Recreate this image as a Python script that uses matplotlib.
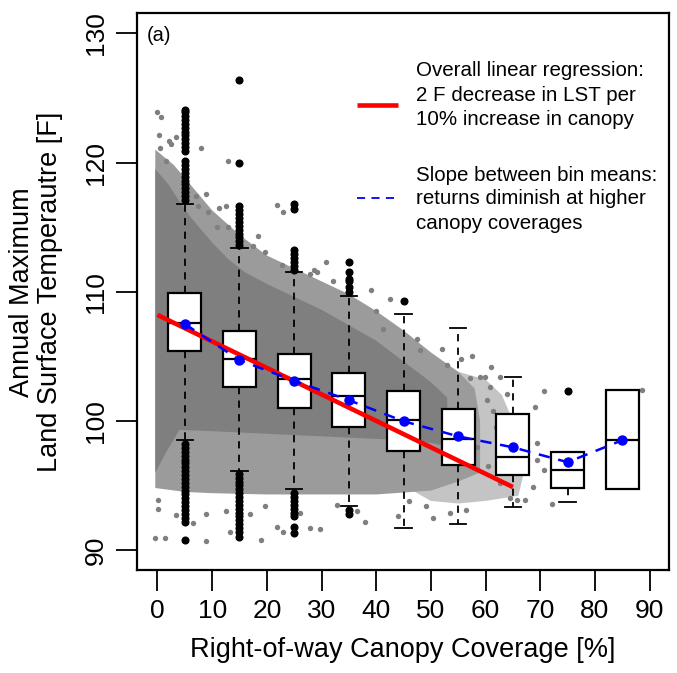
import matplotlib
matplotlib.use("Agg")
import matplotlib.pyplot as plt
from matplotlib.patches import Polygon

plt.rcParams['font.family'] = ['Liberation Sans', 'DejaVu Sans']

# ---- data ----
bins = [5, 15, 25, 35, 45, 55, 65, 75, 85]
q1 = [105.4, 102.6, 101.0, 99.5, 97.7, 96.6, 95.8, 94.8, 94.7]
med = [107.6, 104.8, 103.25, 101.95, 100.05, 98.6, 97.2, 96.2, 98.5]
q3 = [109.9, 106.95, 105.2, 103.7, 102.3, 100.9, 100.5, 97.6, 102.4]
whis_lo = [98.5, 96.15, 94.7, 93.4, 91.7, 92.0, 93.3, 93.7, 94.7]
whis_hi = [116.8, 113.4, 111.5, 109.7, 108.3, 107.2, 103.4, 97.6, 102.4]
bin_means = [107.5, 104.7, 103.1, 101.6, 99.97, 98.8, 97.95, 96.8, 98.5]

fliers = [
    [117.1, 117.4, 117.7, 118.0, 118.3, 118.6, 118.9, 119.2, 119.5, 119.8, 120.1,
     120.9, 121.2, 121.5, 121.8, 122.1, 122.4, 122.7, 123.0, 123.3, 123.6, 123.9, 124.1,
     98.2, 97.9, 97.6, 97.3, 97.0, 96.7, 96.4, 96.1, 95.8, 95.5, 95.2, 94.9, 94.6,
     94.3, 94.0, 93.7, 93.4, 93.1, 92.8, 92.5, 92.2, 90.8],
    [113.6, 113.9, 114.2, 114.5, 114.8, 115.1, 115.4, 115.7, 116.0, 116.3, 116.6,
     120.0, 126.4,
     95.9, 95.6, 95.3, 95.0, 94.7, 94.4, 94.1, 93.8, 93.5, 93.2, 92.9, 92.6, 92.3,
     92.0, 91.7, 91.4, 91.0],
    [111.7, 112.0, 112.3, 112.6, 112.9, 113.2, 116.4, 116.8,
     94.4, 94.1, 93.8, 93.5, 93.2, 92.9, 92.6, 91.8, 91.3],
    [110.0, 110.4, 110.8, 111.0, 111.5, 112.3, 93.1, 92.8],
    [109.3],
    [],
    [],
    [102.3],
    [],
]

reg_intercept = 108.2
reg_slope = -0.205
reg_x = [0, 65]

# dense core of the scatter cloud (canopy %, LST)
core_x = [-0.4, 2, 4, 6, 8, 10, 13, 16, 20, 25, 30, 35, 40, 45, 50, 53,
          53, 50, 45, 40, 30, 20, 10, 4, 1.5, -0.4]
core_y = [119.5, 118.3, 117.0, 115.8, 114.8, 113.8, 112.5, 111.5, 110.6, 109.6,
          108.6, 107.4, 106.2, 104.6, 103.0, 101.8,
          98.0, 98.3, 98.5, 98.6, 98.8, 99.0, 99.2, 99.3, 97.5, 96.0]
# speckled band round the core
band_x = [-0.4, 3, 6, 10, 15, 20, 25, 30, 35, 40, 45, 50, 55, 58, 59,
          59, 55, 50, 40, 30, 20, 10, 5, -0.4]
band_y = [121.0, 119.8, 118.3, 116.3, 114.4, 112.8, 111.8, 110.8, 109.8, 108.5,
          107.0, 105.3, 103.8, 102.5, 100.0,
          96.0, 95.3, 94.6, 94.3, 94.3, 94.3, 94.4, 94.5, 94.8]
# thin outer zone on the right of the cloud
thin_x = [45, 50, 55, 60, 63, 66, 67, 66, 60, 55, 50, 45]
thin_y = [103.0, 104.6, 103.8, 103.2, 102.0, 99.0, 96.0, 94.2, 93.8, 93.6, 93.8, 95.0]
# sparse points around the cloud
pts_x = [-0.1, 0.7, 0.25, 0.4, 2.2, 2.5, 3.4, 8.0, 12.9, 1.6, 7.1, 8.9, 7.4, 9.2,
         11.3, 12.6, 10.8, 12.9, 18.4, 17.5, 21.8, 23.0, 19.6, 30.9, 27.9, 29.1, 22.7,
         28.7, 32.1, 39.1, 42.5, 40.0, 41.2, 47.4, 48.0, 52.9, 57.1, 59.0, 59.9, 60.8,
         60.2, 61.4, 70.6, 69.0, 69.4, 69.4, 70.6, 68.7, 67.2, 72.1, 88.6, 62.6, 63.9,
         62.6, 64.5, 50.4, 49.2, 53.5, 56.5, 65.7,
         -0.5, 1.3, 8.9, 0.1, 0.1, 3.4, 8.9, 6.5, 12.6, 13.2, 19.0, 21.8, 23.0, 27.9,
         29.7, 32.8, 16.9, 19.6, 36.5, 44.0, 38.0, 46.0, 26.0, 4.8,
         57.5, 61.0, 62.0, 58.5, 52.0, 55.5, 63.0, 60.5]
pts_y = [123.9, 123.5, 122.1, 121.1, 121.7, 121.4, 122.0, 121.1, 120.1, 120.1,
         117.4, 117.6, 116.6, 116.2, 116.5, 116.6, 115.0, 115.0, 114.3, 113.5, 116.7,
         116.2, 113.1, 112.3, 111.4, 111.5, 112.1, 111.7, 110.8, 110.1, 109.4, 108.5,
         107.1, 106.3, 105.5, 104.3, 103.3, 103.4, 103.4, 102.6, 101.6, 100.8, 102.3,
         101.1, 98.3, 97.0, 96.2, 94.9, 93.9, 93.6, 102.4, 103.4, 102.1, 95.2, 94.0,
         92.5, 93.4, 92.9, 93.1, 93.9,
         90.9, 90.9, 90.7, 93.2, 93.9, 92.7, 92.8, 92.1, 93.0, 91.4, 90.8, 91.8, 91.4,
         91.7, 91.6, 93.5, 92.8, 93.4, 93.0, 92.6, 92.2, 93.8, 92.9, 93.3,
         105.0, 104.2, 99.5, 98.0, 105.6, 104.8, 97.5, 96.5]

x_ticks = [0, 10, 20, 30, 40, 50, 60, 70, 80, 90]
y_ticks = [90, 100, 110, 120, 130]

# ---- figure ----
fig = plt.figure(figsize=(6.77, 6.73), dpi=100)
ax = fig.add_axes([0.2019, 0.153, 0.7867, 0.8272])

gray = '#7f7f7f'
ax.add_patch(Polygon(list(zip(thin_x, thin_y)), closed=True, fc='#c4c4c4', ec='none', zorder=1))
ax.add_patch(Polygon(list(zip(band_x, band_y)), closed=True, fc='#9b9b9b', ec='none', zorder=1.05))
ax.add_patch(Polygon(list(zip(core_x, core_y)), closed=True, fc=gray, ec='none', zorder=1.1))
ax.scatter(pts_x, pts_y, s=15, color=gray, linewidths=0, zorder=1.2)

stats = []
for i in range(len(bins)):
    stats.append(dict(med=med[i], q1=q1[i], q3=q3[i], whislo=whis_lo[i],
                      whishi=whis_hi[i], fliers=fliers[i], mean=bin_means[i]))
ax.bxp(stats, positions=bins, widths=6, patch_artist=True, showfliers=True,
       showcaps=True, manage_ticks=False, zorder=3,
       boxprops=dict(facecolor='white', edgecolor='black', linewidth=1.6),
       medianprops=dict(color='black', linewidth=1.6),
       whiskerprops=dict(color='black', linewidth=1.3, linestyle=(0, (4, 3.5))),
       capprops=dict(color='black', linewidth=1.3),
       flierprops=dict(marker='o', markerfacecolor='black', markeredgecolor='black',
                       markersize=4.8, linestyle='none'))

reg_y = [reg_intercept + reg_slope * v for v in reg_x]
ax.plot(reg_x, reg_y, color='#ff0000', linewidth=3.3, solid_capstyle='butt', zorder=5)
ax.plot(bins, bin_means, color='#0000ff', linewidth=1.8, dashes=(4.5, 3.5), zorder=6)
ax.plot(bins, bin_means, 'o', color='#0000ff', markersize=6.5, zorder=6)

ax.set_xlim(-3.8, 93.6)
ax.set_ylim(88.45, 131.55)
ax.set_xticks(x_ticks)
ax.set_yticks(y_ticks)
ax.tick_params(axis='both', length=15, width=1.3, labelsize=19, pad=6)
for lbl in ax.get_yticklabels():
    lbl.set_rotation(90)
    lbl.set_va('center')
for s in ax.spines.values():
    s.set_linewidth(1.6)

ax.set_xlabel('Right-of-way Canopy Coverage [%]', fontsize=19.5, labelpad=10)
fig.text(22 / 677, 1 - 292 / 673, 'Annual Maximum', rotation=90, fontsize=19.5,
         ha='center', va='center')
fig.text(50 / 677, 1 - 292 / 673, 'Land Surface Temperautre [F]', rotation=90,
         fontsize=19.5, ha='center', va='center')

ax.text(-1.9, 129.8, '(a)', fontsize=14.5, ha='left', va='center')

# legend drawn as text
ax.plot([36.4, 43.9], [124.45, 124.45], color='#ff0000', linewidth=3.3,
        solid_capstyle='butt')
ax.plot([36.4, 43.9], [117.25, 117.25], color='#0000ff', linewidth=1.3,
        dashes=(4.5, 3.5))
leg1 = ['Overall linear regression:', '2 F decrease in LST per', '10% increase in canopy']
leg2 = ['Slope between bin means:', 'returns diminish at higher', 'canopy coverages']
for txt, yy in zip(leg1, [127.16, 125.2, 123.3]):
    ax.text(47.2, yy, txt, fontsize=14.8, ha='left', va='center')
for txt, yy in zip(leg2, [119.0, 117.2, 115.3]):
    ax.text(47.2, yy, txt, fontsize=14.8, ha='left', va='center')

fig.savefig('out.png', dpi=100)
